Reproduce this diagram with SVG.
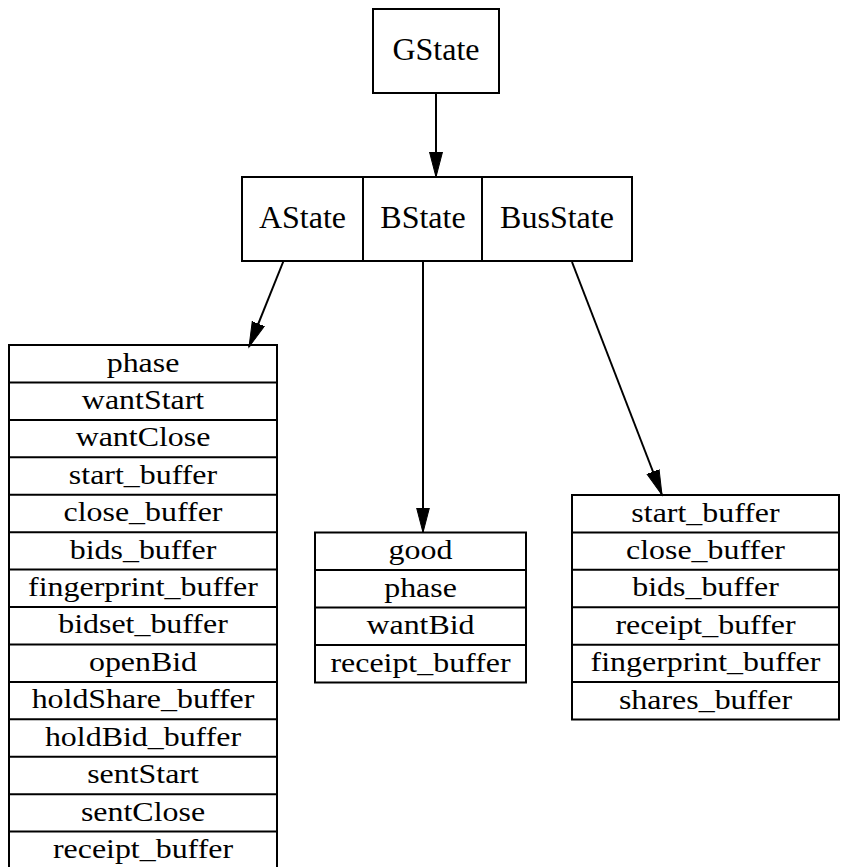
<svg xmlns="http://www.w3.org/2000/svg" width="845" height="867" viewBox="0 0 845 867">
  <style>
    .box { fill: #ffffff; stroke: #000000; stroke-width: 2; }
    .sep { stroke: #000000; stroke-width: 2; }
    .big { font-family: "Liberation Serif", "Times New Roman", serif; font-size: 32px; text-anchor: middle; fill: #000000; }
    .fld { font-family: "Liberation Serif", "Times New Roman", serif; font-size: 28px; text-anchor: middle; fill: #000000; }
    .edge { fill: none; stroke: #000000; stroke-width: 2; }
  </style>
  <defs>
    <marker id="arrow" markerUnits="userSpaceOnUse" markerWidth="28" markerHeight="16" refX="25" refY="7" orient="auto" viewBox="0 0 28 16">
      <path d="M0,0.5 L25,7 L0,13.5 z" fill="#000000" stroke="#000000" stroke-width="1"/>
    </marker>
  </defs>
  <rect width="845" height="867" fill="#ffffff"/>

  <!-- root state -->
  <g id="GState">
    <rect class="box" x="373" y="9" width="126" height="84"/>
    <text class="big" x="436" y="60">GState</text>
  </g>

  <!-- record with three ports -->
  <g id="States">
    <rect class="box" x="242" y="177" width="390" height="84"/>
    <line class="sep" x1="363" y1="177" x2="363" y2="261"/>
    <line class="sep" x1="482" y1="177" x2="482" y2="261"/>
    <text class="big" x="302.5" y="228">AState</text>
    <text class="big" x="423" y="228">BState</text>
    <text class="big" x="557" y="228">BusState</text>
  </g>

  <!-- AState fields -->
  <g id="AStateFields">
    <rect class="box" x="9" y="345" width="268" height="526"/>
    <line class="sep" x1="9" y1="382.4" x2="277" y2="382.4"/>
    <line class="sep" x1="9" y1="419.9" x2="277" y2="419.9"/>
    <line class="sep" x1="9" y1="457.3" x2="277" y2="457.3"/>
    <line class="sep" x1="9" y1="494.7" x2="277" y2="494.7"/>
    <line class="sep" x1="9" y1="532.2" x2="277" y2="532.2"/>
    <line class="sep" x1="9" y1="569.6" x2="277" y2="569.6"/>
    <line class="sep" x1="9" y1="607.0" x2="277" y2="607.0"/>
    <line class="sep" x1="9" y1="644.4" x2="277" y2="644.4"/>
    <line class="sep" x1="9" y1="681.9" x2="277" y2="681.9"/>
    <line class="sep" x1="9" y1="719.3" x2="277" y2="719.3"/>
    <line class="sep" x1="9" y1="756.7" x2="277" y2="756.7"/>
    <line class="sep" x1="9" y1="794.2" x2="277" y2="794.2"/>
    <line class="sep" x1="9" y1="831.6" x2="277" y2="831.6"/>
    <text class="fld" transform="translate(143,371.5) scale(1.14,1)">phase</text>
    <text class="fld" transform="translate(143,408.9) scale(1.14,1)">wantStart</text>
    <text class="fld" transform="translate(143,446.3) scale(1.14,1)">wantClose</text>
    <text class="fld" transform="translate(143,483.7) scale(1.14,1)">start_buffer</text>
    <text class="fld" transform="translate(143,521.2) scale(1.14,1)">close_buffer</text>
    <text class="fld" transform="translate(143,558.6) scale(1.14,1)">bids_buffer</text>
    <text class="fld" transform="translate(143,596.0) scale(1.14,1)">fingerprint_buffer</text>
    <text class="fld" transform="translate(143,633.4) scale(1.14,1)">bidset_buffer</text>
    <text class="fld" transform="translate(143,670.9) scale(1.14,1)">openBid</text>
    <text class="fld" transform="translate(143,708.3) scale(1.14,1)">holdShare_buffer</text>
    <text class="fld" transform="translate(143,745.7) scale(1.14,1)">holdBid_buffer</text>
    <text class="fld" transform="translate(143,783.2) scale(1.14,1)">sentStart</text>
    <text class="fld" transform="translate(143,820.6) scale(1.14,1)">sentClose</text>
    <text class="fld" transform="translate(143,858.0) scale(1.14,1)">receipt_buffer</text>
  </g>

  <!-- BState fields -->
  <g id="BStateFields">
    <rect class="box" x="315" y="532.5" width="211" height="150"/>
    <line class="sep" x1="315" y1="570" x2="526" y2="570"/>
    <line class="sep" x1="315" y1="607.5" x2="526" y2="607.5"/>
    <line class="sep" x1="315" y1="645" x2="526" y2="645"/>
    <text class="fld" transform="translate(420.5,559) scale(1.14,1)">good</text>
    <text class="fld" transform="translate(420.5,596.5) scale(1.14,1)">phase</text>
    <text class="fld" transform="translate(420.5,634) scale(1.14,1)">wantBid</text>
    <text class="fld" transform="translate(420.5,671.5) scale(1.14,1)">receipt_buffer</text>
  </g>

  <!-- BusState fields -->
  <g id="BusStateFields">
    <rect class="box" x="572" y="495" width="267" height="224.5"/>
    <line class="sep" x1="572" y1="532.4" x2="839" y2="532.4"/>
    <line class="sep" x1="572" y1="569.8" x2="839" y2="569.8"/>
    <line class="sep" x1="572" y1="607.3" x2="839" y2="607.3"/>
    <line class="sep" x1="572" y1="644.7" x2="839" y2="644.7"/>
    <line class="sep" x1="572" y1="682.1" x2="839" y2="682.1"/>
    <text class="fld" transform="translate(705.5,521.5) scale(1.14,1)">start_buffer</text>
    <text class="fld" transform="translate(705.5,558.9) scale(1.14,1)">close_buffer</text>
    <text class="fld" transform="translate(705.5,596.3) scale(1.14,1)">bids_buffer</text>
    <text class="fld" transform="translate(705.5,633.8) scale(1.14,1)">receipt_buffer</text>
    <text class="fld" transform="translate(705.5,671.2) scale(1.14,1)">fingerprint_buffer</text>
    <text class="fld" transform="translate(705.5,708.6) scale(1.14,1)">shares_buffer</text>
  </g>

  <!-- connectors -->
  <g id="edges">
    <line class="edge" x1="436" y1="93" x2="436" y2="177" marker-end="url(#arrow)"/>
    <line class="edge" x1="283.5" y1="261" x2="249" y2="347" marker-end="url(#arrow)"/>
    <line class="edge" x1="423" y1="261" x2="423" y2="532.5" marker-end="url(#arrow)"/>
    <line class="edge" x1="572" y1="262" x2="662" y2="495" marker-end="url(#arrow)"/>
  </g>
</svg>
